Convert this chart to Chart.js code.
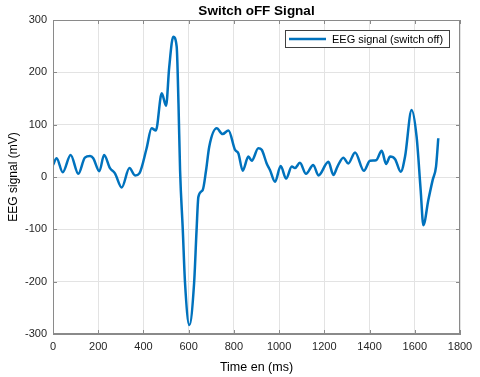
<!DOCTYPE html>
<html>
<head>
<meta charset="utf-8">
<script src="https://cdn.jsdelivr.net/npm/chart.js@4.4.0/dist/chart.umd.min.js"></script>
<style>
  body { margin: 0; background: #fff; }
  canvas { display: block; }
</style>
</head>
<body>
<canvas id="chart" width="480" height="377"></canvas>
<script>
// values
const timeMs = [
  0, 16, 43, 78, 112, 141, 164, 178, 205, 226, 252, 274, 304, 338, 363, 382,
  414, 436, 455, 481, 500, 514, 532, 547, 555, 562, 574, 584, 603, 624, 635,
  643, 662, 677, 691, 724, 750, 776, 805, 820, 839, 864, 879, 908, 923, 945,
  960, 982, 1007, 1031, 1056, 1070, 1092, 1119, 1151, 1174, 1218, 1240, 1258,
  1284, 1306, 1336, 1375, 1402, 1429, 1454, 1473, 1491, 1513, 1538, 1557,
  1586, 1608, 1626, 1638, 1660, 1679, 1694, 1704
]
const eegOff = [
  23, 36, 9, 42, 6, 37, 40, 36, 11, 42, 17, 7, -20, 17, 3, 7,
  55, 93, 89, 160, 136, 210, 268, 249, 140, 13, -101, -203, -283, -203, -101,
  -38, -25, 13, 58, 93, 82, 89, 52, 45, 12, 39, 31, 55, 52, 26,
  13, -9, 21, -3, 20, 17, 27, 6, 23, 3, 29, 4, 20,
  37, 26, 47, 12, 31, 32, 50, 25, 39, 34, 10, 39,
  128, 77, -25, -92, -44, -6, 20, 74
]
const xTicks = [0, 200, 400, 600, 800, 1000, 1200, 1400, 1600, 1800]
const yTicks = [-300, -200, -100, 0, 100, 200, 300]

const FONT = 'Liberation Sans, Arial, Helvetica, sans-serif'
const LINE_COLOR = '#0072BD'
const AXIS_COLOR = '#8a8a8a'

// MATLAB-like frame, inward ticks, title and legend
const matlabFrame = {
  id: 'matlabFrame',
  afterDraw(chart) {
    const { ctx, chartArea: a, scales } = chart
    ctx.save()
    ctx.strokeStyle = AXIS_COLOR
    ctx.lineWidth = 1
    ctx.strokeRect(a.left + 0.5, a.top + 0.5, a.right - a.left - 1, a.bottom - a.top - 1)
    ctx.beginPath()
    for (const v of xTicks) {
      const px = Math.round(scales.x.getPixelForValue(v)) + 0.5
      ctx.moveTo(px, a.top); ctx.lineTo(px, a.top + 4)
      ctx.moveTo(px, a.bottom); ctx.lineTo(px, a.bottom - 4)
    }
    for (const v of yTicks) {
      const py = Math.round(scales.y.getPixelForValue(v)) + 0.5
      ctx.moveTo(a.left, py); ctx.lineTo(a.left + 4, py)
      ctx.moveTo(a.right, py); ctx.lineTo(a.right - 4, py)
    }
    ctx.stroke()

    // title
    ctx.fillStyle = '#000'
    ctx.font = 'bold 13.5px ' + FONT
    ctx.textAlign = 'center'
    ctx.textBaseline = 'alphabetic'
    ctx.fillText('Switch oFF Signal', (a.left + a.right) / 2, 15)

    // legend box
    const ds = chart.data.datasets[0]
    const lx = 285, ly = 30, lw = 165, lh = 18
    ctx.fillStyle = '#fff'
    ctx.fillRect(lx, ly, lw, lh)
    ctx.strokeStyle = '#404040'
    ctx.strokeRect(lx + 0.5, ly + 0.5, lw - 1, lh - 1)
    ctx.strokeStyle = ds.borderColor
    ctx.lineWidth = 2.5
    ctx.beginPath()
    ctx.moveTo(lx + 4, ly + lh / 2)
    ctx.lineTo(lx + 41, ly + lh / 2)
    ctx.stroke()
    ctx.fillStyle = '#000'
    ctx.font = '11px ' + FONT
    ctx.textAlign = 'left'
    ctx.textBaseline = 'middle'
    ctx.fillText(ds.label, lx + 47, ly + lh / 2 + 0.5)
    ctx.restore()
  },
}

const ctx = document.getElementById('chart')
new Chart(ctx, {
  type: 'line',
  data: {
    datasets: [
      {
        label: 'EEG signal (switch off)',
        data: timeMs.map((t, i) => ({ x: t, y: eegOff[i] })),
        borderColor: LINE_COLOR,
        borderWidth: 2.5,
        pointRadius: 0,
        cubicInterpolationMode: 'monotone',
        fill: false,
      },
    ],
  },
  options: {
    responsive: false,
    animation: false,
    layout: {
      padding: { top: 20, right: 20, left: 0, bottom: 0 },
    },
    plugins: {
      legend: { display: false },
      tooltip: { enabled: false },
    },
    scales: {
      x: {
        type: 'linear',
        min: 0,
        max: 1800,
        afterFit: (s) => { s.height = 43 },
        afterBuildTicks: (s) => { s.ticks = xTicks.map((v) => ({ value: v })) },
        grid: { color: '#e3e3e3', drawTicks: false },
        border: { color: AXIS_COLOR },
        ticks: {
          padding: 6,
          color: '#262626',
          font: { family: FONT, size: 11 },
          maxRotation: 0,
          callback: (v) => String(v),
        },
        title: {
          display: true,
          text: 'Time en (ms)',
          color: '#000',
          font: { family: FONT, size: 12.5 },
          padding: { top: 0, bottom: 2 },
        },
      },
      y: {
        min: -300,
        max: 300,
        afterFit: (s) => { s.width = 53 },
        afterBuildTicks: (s) => { s.ticks = yTicks.map((v) => ({ value: v })) },
        grid: { color: '#e3e3e3', drawTicks: false },
        border: { color: AXIS_COLOR },
        ticks: {
          padding: 6,
          color: '#262626',
          font: { family: FONT, size: 11 },
          callback: (v) => String(v),
        },
        title: {
          display: true,
          text: 'EEG signal (mV)',
          color: '#000',
          font: { family: FONT, size: 12 },
          padding: { top: 6, bottom: 0 },
        },
      },
    },
  },
  plugins: [matlabFrame],
})
</script>
</body>
</html>
